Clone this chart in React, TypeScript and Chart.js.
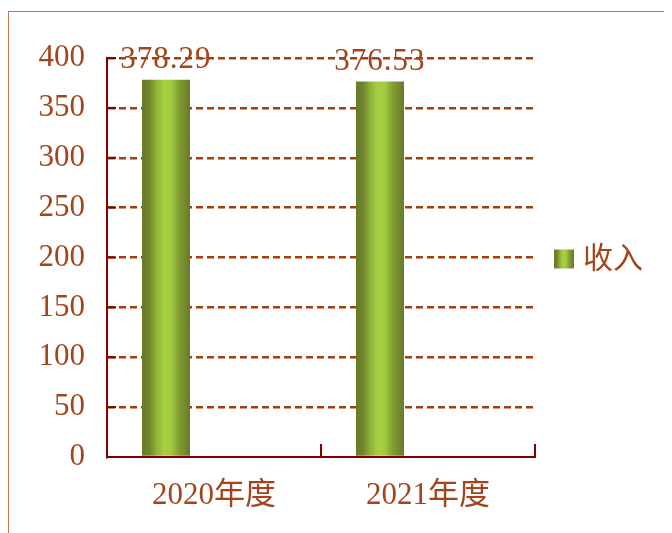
import React, { useEffect, useRef } from 'react';
import { Chart, registerables } from 'chart.js';

Chart.register(...registerables);

const categories = ['2020年度', '2021年度'];
const seriesName = '收入';
const incomeValues = [378.29, 376.53];
const dataLabels = ['378.29', '376.53'];
const emptySeries = [null, null];
const yMin = 0;
const yMax = 400;
const yStep = 50;

const TEXT = '#a3441a';
const AXIS = '#800000';
const GRID = '#a33f0c';
const FRAME = '#b7794f';
const SERIF = '"Liberation Serif", "Noto Sans CJK SC", serif';

function greenGradient(ctx: CanvasRenderingContext2D, left: number, right: number) {
  const g = ctx.createLinearGradient(left, 0, right, 0);
  g.addColorStop(0, '#687a2a');
  g.addColorStop(0.15, '#70852c');
  g.addColorStop(0.3, '#8fb238');
  g.addColorStop(0.45, '#a6d041');
  g.addColorStop(0.6, '#a2cb40');
  g.addColorStop(0.78, '#7f9b32');
  g.addColorStop(1, '#687a2a');
  return g;
}

const excelPlugin = {
  id: 'excelStyle',
  beforeDatasetsDraw(chart: any) {
    const meta = chart.getDatasetMeta(0);
    meta.data.forEach((el: any) => {
      const { x, width } = el.getProps(['x', 'width'], true);
      el.options = Object.assign({}, el.options, {
        backgroundColor: greenGradient(chart.ctx, x - width / 2, x + width / 2),
      });
    });
  },
  afterDatasetsDraw(chart: any) {
    const ctx = chart.ctx as CanvasRenderingContext2D;
    const xs = chart.scales.x;
    const ys = chart.scales.y;
    const area = chart.chartArea;
    ctx.save();
    ctx.strokeStyle = AXIS;
    ctx.lineWidth = 2;
    ys.ticks.forEach((t: any) => {
      if (t.value === yMin) return;
      const y = ys.getPixelForValue(t.value);
      ctx.beginPath();
      ctx.moveTo(area.left, y);
      ctx.lineTo(area.left + 9, y);
      ctx.stroke();
    });
    const w = (xs.right - xs.left) / categories.length;
    for (let i = 1; i <= categories.length; i++) {
      const x = Math.round(xs.left + i * w);
      ctx.beginPath();
      ctx.moveTo(x, area.bottom);
      ctx.lineTo(x, area.bottom - 13);
      ctx.stroke();
    }
    const meta = chart.getDatasetMeta(0);
    ctx.fillStyle = TEXT;
    ctx.font = '31px ' + SERIF;
    ctx.textAlign = 'center';
    ctx.textBaseline = 'middle';
    try { (ctx as any).letterSpacing = '1px'; } catch (e) {}
    meta.data.forEach((el: any, i: number) => {
      const { x, y } = el.getProps(['x', 'y'], true);
      ctx.fillText(dataLabels[i], x, y - 20);
    });
    ctx.restore();
  },
  afterDraw(chart: any) {
    const ctx = chart.ctx as CanvasRenderingContext2D;
    const area = chart.chartArea;
    const cy = (area.top + area.bottom) / 2 + 2;
    const bx = area.right + 19;
    ctx.save();
    ctx.fillStyle = greenGradient(ctx, bx, bx + 20);
    ctx.fillRect(bx, cy - 10, 20, 19);
    ctx.fillStyle = TEXT;
    ctx.font = '30px ' + SERIF;
    ctx.textAlign = 'left';
    ctx.textBaseline = 'middle';
    ctx.fillText(chart.data.datasets[0].label, bx + 29, cy + 1);
    ctx.restore();
  },
};

export default function App() {
  const ref = useRef<HTMLCanvasElement>(null);

  useEffect(() => {
    document.documentElement.style.overflow = 'hidden';
    document.body.style.overflow = 'hidden';
    if (!ref.current) return;
    const chart = new Chart(ref.current, {
      type: 'bar',
      data: {
        labels: categories,
        datasets: [
          { label: seriesName, data: incomeValues, backgroundColor: '#8fb238', borderWidth: 0 },
          { label: '', data: emptySeries as any, backgroundColor: 'transparent' },
          { label: '', data: emptySeries as any, backgroundColor: 'transparent' },
        ],
      },
      options: {
        animation: false,
        responsive: true,
        maintainAspectRatio: false,
        datasets: { bar: { categoryPercentage: 0.673, barPercentage: 1 } },
        layout: { padding: { left: 0, top: 46, right: 137, bottom: 0 } },
        plugins: {
          legend: { display: false },
          tooltip: { enabled: false },
        },
        scales: {
          x: {
            offset: true,
            grid: { display: false },
            border: { display: true, color: AXIS, width: 2, z: 1 },
            ticks: {
              color: TEXT,
              font: { size: 31, family: SERIF },
              padding: 12,
              maxRotation: 0,
            },
            afterFit(scale: any) {
              scale.height = 76;
              scale.paddingLeft = 0;
              scale.paddingRight = 0;
            },
          },
          y: {
            min: yMin,
            max: yMax,
            ticks: {
              stepSize: yStep,
              autoSkip: false,
              color: TEXT,
              font: { size: 31, family: SERIF },
              padding: 22,
            },
            grid: {
              color: (c: any) => (c.tick && c.tick.value === yMin ? 'transparent' : GRID),
              lineWidth: 2.5,
              drawTicks: false,
            },
            border: { display: true, color: AXIS, width: 2, dash: [7, 4] },
            afterFit(scale: any) {
              scale.width = 98;
              scale.paddingTop = 0;
              scale.paddingBottom = 0;
            },
          },
        },
      },
      plugins: [excelPlugin],
    });
    return () => chart.destroy();
  }, []);

  return (
    <div
      style={{
        position: 'relative',
        top: 3,
        width: 700,
        height: 560,
        borderTop: `1px solid ${FRAME}`,
        borderLeft: `1px solid ${FRAME}`,
        boxSizing: 'border-box',
      }}
    >
      <div style={{ position: 'relative', width: 663, height: 521 }}>
        <canvas ref={ref} />
      </div>
    </div>
  );
}
